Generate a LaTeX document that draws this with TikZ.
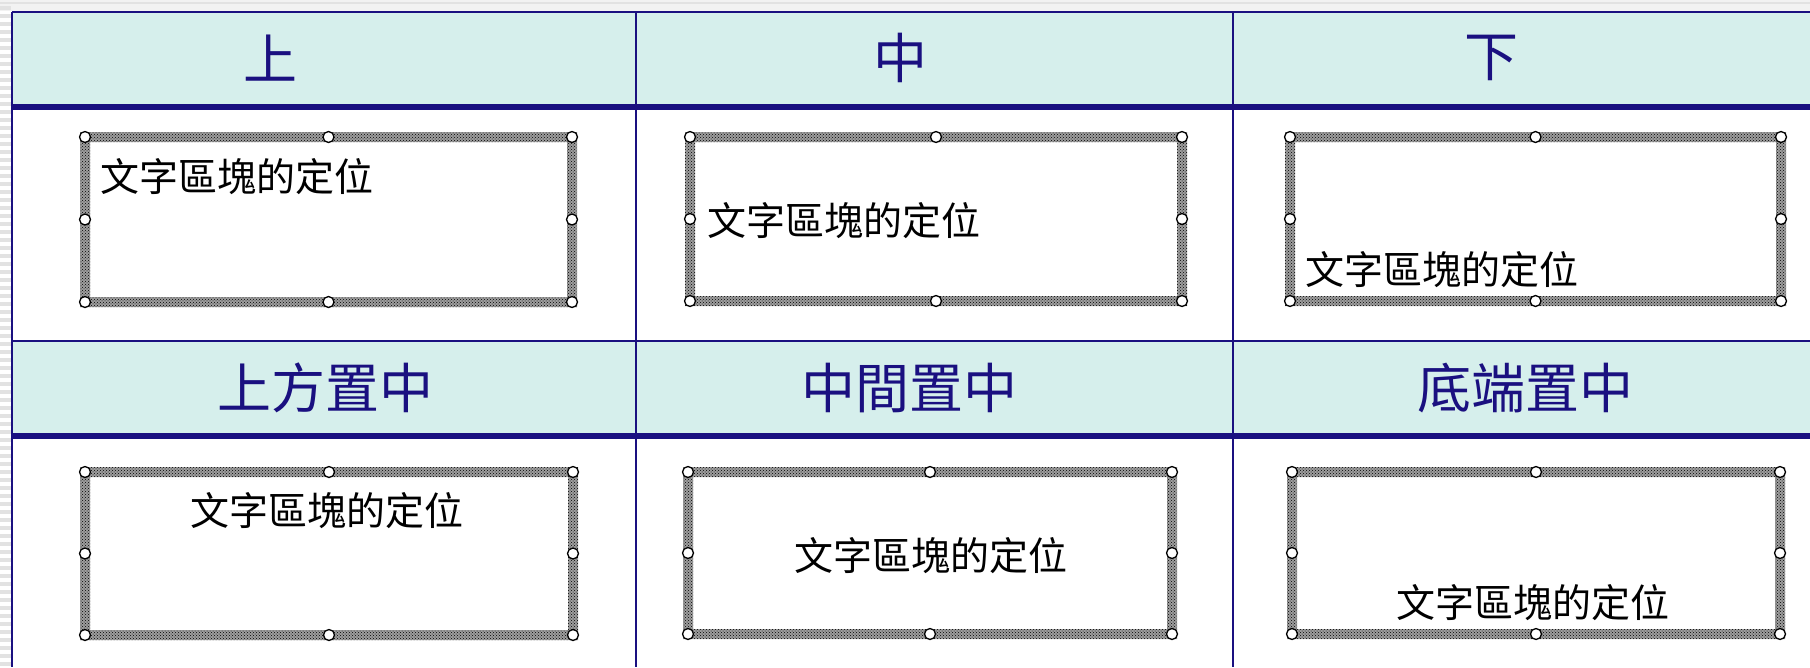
\documentclass[tikz,border=0pt]{standalone}
\usepackage{fontspec}
\usetikzlibrary{patterns,calc}
\newfontfamily\cjk{Noto Sans CJK TC}
\definecolor{navy}{RGB}{26,16,128}
\definecolor{hdr}{RGB}{214,239,236}
\definecolor{topgray}{RGB}{242,242,242}
\definecolor{stripe}{RGB}{226,226,226}
\tikzset{
  tbox/.style={rectangle, inner sep=0pt, outer sep=0pt, draw=none},
  bandbase/.style={even odd rule, fill=black!38},
  bandfill/.style={even odd rule, pattern=crosshatch dots, pattern color=black},
  handle/.style={circle, draw=black, fill=white, line width=1.3pt, minimum size=11pt, inner sep=0pt},
  bodytext/.style={anchor=west, inner sep=0pt, font=\cjk\fontsize{39}{39}\selectfont, text=black},
  headtext/.style={anchor=center, inner sep=0pt, font=\cjk\fontsize{54}{54}\selectfont, text=navy},
  tline/.style={draw=navy, line width=2pt},
  thick line/.style={draw=navy, line width=6pt}
}
\newcommand{\frameband}[1]{%
  \fill[bandbase]
    ($(#1.north west)+(-5,-5)$) rectangle ($(#1.south east)+(5,5)$)
    ($(#1.north west)+(5,5)$) rectangle ($(#1.south east)+(-5,-5)$);
  \fill[bandfill]
    ($(#1.north west)+(-5,-5)$) rectangle ($(#1.south east)+(5,5)$)
    ($(#1.north west)+(5,5)$) rectangle ($(#1.south east)+(-5,-5)$);
  \foreach \a in {north west,north,north east,east,south east,south,south west,west}
    {\node[handle] at (#1.\a) {};}}
\begin{document}
\begin{tikzpicture}[x=1pt,y=-1pt]
\useasboundingbox (0,0) rectangle (1810,667);
\fill[white] (0,0) rectangle (1810,667);
% backdrop
\fill[topgray] (0,0) rectangle (1810,11);
\draw[stripe, line width=2pt] (0,3) -- (1810,3);
\foreach \y in {6,14,...,662} {\fill[stripe] (0,\y) rectangle (11,\y+3.5);}
% header bands
\fill[hdr] (12,12) rectangle (1810,104);
\fill[hdr] (12,341) rectangle (1810,433);
% grid lines
\draw[tline] (12,12) -- (1810,12);
\draw[tline] (12,12) -- (12,667);
\draw[tline] (636,12) -- (636,667);
\draw[tline] (1233,12) -- (1233,667);
\draw[tline] (12,341) -- (1810,341);
\draw[thick line] (12,107) -- (1810,107);
\draw[thick line] (12,436) -- (1810,436);
% headers
\node[headtext] (h1) at (270,58) {上};
\node[headtext] (h2) at (900,58) {中};
\node[headtext] (h3) at (1491,58) {下};
\node[headtext] (h4) at (325,388) {上方置中};
\node[headtext] (h5) at (909,388) {中間置中};
\node[headtext] (h6) at (1525,388) {底端置中};
% text boxes
\node[tbox, minimum width=487pt, minimum height=165pt] (boxA) at (328.5,219.5) {};
\node[tbox, minimum width=492pt, minimum height=164pt] (boxB) at (936,219) {};
\node[tbox, minimum width=491pt, minimum height=164pt] (boxC) at (1535.5,219) {};
\node[tbox, minimum width=488pt, minimum height=163pt] (boxD) at (329,553.5) {};
\node[tbox, minimum width=484pt, minimum height=162pt] (boxE) at (930,553) {};
\node[tbox, minimum width=488pt, minimum height=162pt] (boxF) at (1536,553) {};
\frameband{boxA}\frameband{boxB}\frameband{boxC}\frameband{boxD}\frameband{boxE}\frameband{boxF}
% texts
\node[bodytext] (tA) at (100,177) {文字區塊的定位};
\node[bodytext] (tB) at (707,221) {文字區塊的定位};
\node[bodytext] (tC) at (1305,270) {文字區塊的定位};
\node[bodytext] (tD) at (190,511) {文字區塊的定位};
\node[bodytext] (tE) at (794,556) {文字區塊的定位};
\node[bodytext] (tF) at (1396,603) {文字區塊的定位};
\end{tikzpicture}
\end{document}
